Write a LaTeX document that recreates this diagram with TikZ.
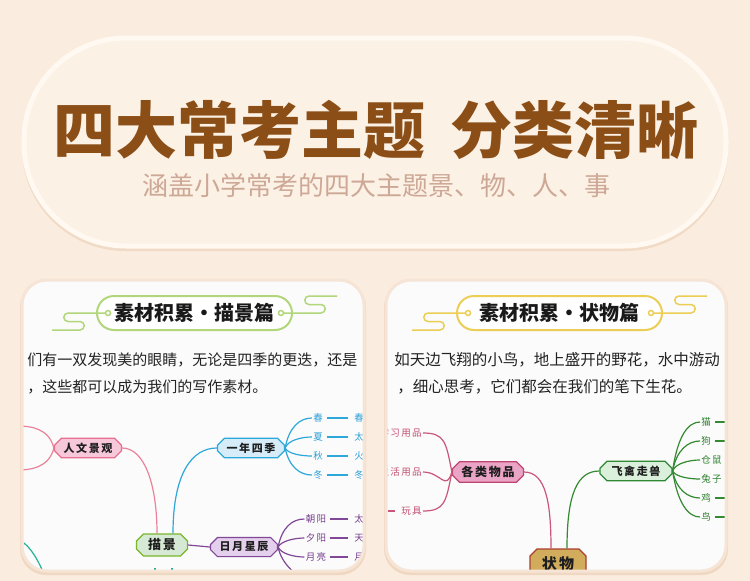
\documentclass[tikz,border=0pt]{standalone}
\usepackage{fontspec}
\newfontfamily\cjk{Noto Sans CJK SC}
\newfontfamily\cjkwide[LetterSpace=14]{Noto Sans CJK SC}
\usetikzlibrary{shapes.misc,calc}

\tikzset{every picture/.style={line width=0.75pt}}
\tikzset{
	card/.style={draw={rgb, 255:red, 246; green, 229; blue, 214 }, line width=3pt, rounded corners=25},
	header/.style={rounded rectangle, line width=2pt, fill=white, minimum height=34pt, inner sep=0pt, font=\cjk\bfseries\fontsize{20}{22}\selectfont, text={rgb, 255:red, 25; green, 25; blue, 25 }},
	topic/.style={chamfered rectangle, chamfered rectangle xsep=3.5pt, chamfered rectangle ysep=3.5pt, line width=1.2pt, inner sep=1pt, minimum height=19pt, minimum width=67pt, font=\cjkwide\bfseries\fontsize{11}{12}\selectfont, text={rgb, 255:red, 30; green, 30; blue, 30 }},
	leaf/.style={inner sep=1pt, font=\cjkwide\fontsize{9.5}{11}\selectfont},
	bodytext/.style={anchor=west, inner sep=0pt, font=\cjk\fontsize{15}{17}\selectfont, text={rgb, 255:red, 35; green, 35; blue, 35 }},
	decogreen/.style={draw={rgb, 255:red, 178; green, 214; blue, 122 }, line width=1.5pt},
	decoyellow/.style={draw={rgb, 255:red, 236; green, 206; blue, 84 }, line width=1.5pt},
	% card 1 branches
	pinkline/.style={draw={rgb, 255:red, 234; green, 130; blue, 155 }, line width=1.2pt},
	pinknode/.style={topic, draw={rgb, 255:red, 232; green, 112; blue, 142 }, fill={rgb, 255:red, 247; green, 200; blue, 218 }},
	blueline/.style={draw={rgb, 255:red, 45; green, 168; blue, 218 }, line width=1.2pt},
	bluenode/.style={topic, draw={rgb, 255:red, 45; green, 168; blue, 218 }, fill={rgb, 255:red, 214; green, 237; blue, 249 }},
	blueleaf/.style={leaf, text={rgb, 255:red, 45; green, 160; blue, 215 }},
	purpleline/.style={draw={rgb, 255:red, 128; green, 72; blue, 150 }, line width=1.2pt},
	purplenode/.style={topic, draw={rgb, 255:red, 128; green, 72; blue, 150 }, fill={rgb, 255:red, 228; green, 208; blue, 236 }},
	purpleleaf/.style={leaf, text={rgb, 255:red, 118; green, 62; blue, 140 }},
	greennode/.style={topic, draw={rgb, 255:red, 122; green, 182; blue, 44 }, fill={rgb, 255:red, 214; green, 233; blue, 212 }, minimum width=51pt, minimum height=22pt, font=\cjkwide\bfseries\fontsize{13}{14}\selectfont},
	tealline/.style={draw={rgb, 255:red, 36; green, 178; blue, 150 }, line width=1.2pt},
	% card 2 branches
	roseline/.style={draw={rgb, 255:red, 200; green, 86; blue, 122 }, line width=1.2pt},
	rosenode/.style={topic, draw={rgb, 255:red, 190; green, 70; blue, 112 }, fill={rgb, 255:red, 234; green, 164; blue, 198 }, minimum width=71pt, minimum height=18pt, font=\cjkwide\bfseries\fontsize{12}{13}\selectfont},
	roseleaf/.style={leaf, anchor=east, text={rgb, 255:red, 196; green, 78; blue, 112 }},
	forestline/.style={draw={rgb, 255:red, 52; green, 138; blue, 48 }, line width=1.2pt},
	forestnode/.style={topic, draw={rgb, 255:red, 46; green, 136; blue, 52 }, fill={rgb, 255:red, 218; green, 240; blue, 218 }, minimum width=72pt, minimum height=18pt},
	forestleaf/.style={leaf, anchor=west, text={rgb, 255:red, 46; green, 128; blue, 46 }},
	goldnode/.style={topic, draw={rgb, 255:red, 170; green, 64; blue, 44 }, fill={rgb, 255:red, 208; green, 172; blue, 92 }, minimum width=56pt, minimum height=30pt, font=\cjkwide\bfseries\fontsize{15}{16}\selectfont}
}

\begin{document}
\begin{tikzpicture}[x=1pt,y=1pt,yscale=-1,xscale=1]
		\useasboundingbox (0,0) rectangle (750,581);

		%Background
		\fill[fill={rgb, 255:red, 250; green, 236; blue, 222 }] (0,0) rectangle (750,581);
		%Shape: Pill
		\fill[fill={rgb, 255:red, 241; green, 219; blue, 199 }, rounded corners=103] (22,43) rectangle (728,251);
		\draw[draw={rgb, 255:red, 255; green, 249; blue, 242 }, line width=5pt, fill={rgb, 255:red, 252; green, 241; blue, 229 }, rounded corners=102] (24,38) rectangle (726,246);

		% Text Node
		\node[font=\cjk\bfseries\fontsize{62}{64}\selectfont, text={rgb, 255:red, 139; green, 78; blue, 22 }] (title) at (376,130) {四大常考主题\hspace{26pt}分类清晰};
		\node[font=\cjk\fontsize{26}{28}\selectfont, text={rgb, 255:red, 206; green, 168; blue, 150 }] (subtitle) at (376,186) {涵盖小学常考的四大主题景、物、人、事};

		%Shape: Card 1
		\fill[fill={rgb, 255:red, 240; green, 215; blue, 193 }, rounded corners=26] (20,281) rectangle (366,575);
		\fill[fill={rgb, 255:red, 251; green, 251; blue, 251 }, rounded corners=25] (22,280) rectangle (364,571);
		\begin{scope}
		\clip[rounded corners=25] (22,280) rectangle (364,571);
		\node[header, draw={rgb, 255:red, 178; green, 214; blue, 122 }, minimum width=195pt] (miaojingpian) at (194.5,313) {素材积累·描景篇};
		\draw[decogreen] (108,313) circle[radius=2.5];
		\draw[decogreen] (281,313) circle[radius=2.5];
		\draw[decogreen] (105.5,313) -- (68,313) arc[start angle=270, end angle=90, radius=4.25] -- (80,321.5) arc[start angle=270, end angle=450, radius=4.25] -- (52,330);
		\draw[decogreen] (283.5,313) -- (321,313) arc[start angle=90, end angle=-90, radius=4.25] -- (309,304.5) arc[start angle=90, end angle=270, radius=4.25] -- (337,296);

		\node[bodytext] (jingtext1) at (27,360) {们有一双发现美的眼睛，无论是四季的更迭，还是};
		\node[bodytext] (jingtext2) at (27,387) {，这些都可以成为我们的写作素材。};

		% Mind map: 描景
		\node[greennode] (miaojing) at (162,545) {描景};
		\node[pinknode] (renwen) at (88,448) {人文景观};
		\node[bluenode] (siji) at (251,448) {一年四季};
		\node[purplenode] (riyue) at (244,547) {日月星辰};

		\draw[pinkline] ($(miaojing.north)+(-5,0)$) .. controls +(0,-50) and +(22,0) .. (renwen.east);
		\draw[blueline] ($(miaojing.north)+(11,0)$) .. controls +(0,-60) and +(-25,0) .. (siji.west);
		\draw[purpleline] (miaojing.east) -- (riyue.west);
		\draw[tealline] ($(miaojing.south)+(-7,11)$) -- +(0,14);
		\draw[tealline] ($(miaojing.south)+(10,11)$) -- +(0,14);

		\coordinate (renwenup) at (18,426);
		\coordinate (renwendown) at (18,470);
		\draw[pinkline] (renwen.west) .. controls +(-5,-20) and +(12,0) .. (renwenup);
		\draw[pinkline] (renwen.west) .. controls +(-5,20) and +(12,0) .. (renwendown);
		\coordinate (tealtop) at (24,543);
		\coordinate (tealbottom) at (46,580);
		\draw[tealline] (tealtop) .. controls +(10,8) and +(-4,-12) .. (tealbottom);

		\node[blueleaf] (chun) at (318,418) {春};
		\node[blueleaf] (xia) at (318,437) {夏};
		\node[blueleaf] (qiu) at (318,456) {秋};
		\node[blueleaf] (dong) at (318,475) {冬};
		\node[blueleaf] (chunmore) at (359,418) {春};
		\node[blueleaf] (xiamore) at (359,437) {太};
		\node[blueleaf] (qiumore) at (359,456) {火};
		\node[blueleaf] (dongmore) at (359,475) {冬};
		\draw[blueline] (siji.east) .. controls +(4,-21) and +(-12,0) .. (chun.west);
		\draw[blueline] (siji.east) .. controls +(3,-8) and +(-10,0) .. (xia.west);
		\draw[blueline] (siji.east) .. controls +(3,6) and +(-10,0) .. (qiu.west);
		\draw[blueline] (siji.east) .. controls +(4,19) and +(-12,0) .. (dong.west);
		\draw[blueline, shorten <=3pt, shorten >=5pt] (chun) -- (chunmore);
		\draw[blueline, shorten <=3pt, shorten >=5pt] (xia) -- (xiamore);
		\draw[blueline, shorten <=3pt, shorten >=5pt] (qiu) -- (qiumore);
		\draw[blueline, shorten <=3pt, shorten >=5pt] (dong) -- (dongmore);

		\node[purpleleaf] (zhaoyang) at (316,519) {朝阳};
		\node[purpleleaf] (xiyang) at (316,538) {夕阳};
		\node[purpleleaf] (yueliang) at (316,557) {月亮};
		\node[purpleleaf] (zhaoyangmore) at (359,519) {太};
		\node[purpleleaf] (xiyangmore) at (359,538) {天};
		\node[purpleleaf] (yueliangmore) at (359,557) {月};
		\coordinate (riyuedown) at (306,580);
		\draw[purpleline] (riyue.east) .. controls +(4,-20) and +(-12,0) .. (zhaoyang.west);
		\draw[purpleline] (riyue.east) .. controls +(3,-6) and +(-10,0) .. (xiyang.west);
		\draw[purpleline] (riyue.east) .. controls +(3,7) and +(-10,0) .. (yueliang.west);
		\draw[purpleline] (riyue.east) .. controls +(3,16) and +(-10,-4) .. (riyuedown);
		\draw[purpleline, shorten <=2pt, shorten >=5pt] (zhaoyang) -- (zhaoyangmore);
		\draw[purpleline, shorten <=2pt, shorten >=5pt] (xiyang) -- (xiyangmore);
		\draw[purpleline, shorten <=2pt, shorten >=5pt] (yueliang) -- (yueliangmore);
		\end{scope}
		\draw[card] (22,280) rectangle (364,571);

		%Shape: Card 2
		\fill[fill={rgb, 255:red, 240; green, 215; blue, 193 }, rounded corners=26] (384,281) rectangle (728,575);
		\fill[fill={rgb, 255:red, 251; green, 251; blue, 251 }, rounded corners=25] (386,280) rectangle (726,571);
		\begin{scope}
		\clip[rounded corners=25] (386,280) rectangle (726,571);
		\node[header, draw={rgb, 255:red, 236; green, 206; blue, 84 }, minimum width=205pt] (zhuangwupian) at (559.5,313) {素材积累·状物篇};
		\draw[decoyellow] (468,313) circle[radius=2.5];
		\draw[decoyellow] (651,313) circle[radius=2.5];
		\draw[decoyellow] (465.5,313) -- (428,313) arc[start angle=270, end angle=90, radius=4.25] -- (440,321.5) arc[start angle=270, end angle=450, radius=4.25] -- (412,330);
		\draw[decoyellow] (653.5,313) -- (691,313) arc[start angle=90, end angle=-90, radius=4.25] -- (679,304.5) arc[start angle=90, end angle=270, radius=4.25] -- (707,296);

		\node[bodytext, font=\cjk\fontsize{15.5}{17}\selectfont] (wutext1) at (394,360) {如天边飞翔的小鸟，地上盛开的野花，水中游动};
		\node[bodytext, font=\cjk\fontsize{15.5}{17}\selectfont] (wutext2) at (397,387) {，细心思考，它们都会在我们的笔下生花。};

		% Mind map: 状物
		\node[goldnode] (zhuangwu) at (558,564) {状物};
		\node[rosenode] (gelei) at (488,472) {各类物品};
		\node[forestnode] (feiqin) at (636,471) {飞禽走兽};

		\draw[roseline] ($(zhuangwu.north)+(-7,0)$) .. controls +(0,-45) and +(22,0) .. (gelei.east);
		\draw[forestline] ($(zhuangwu.north)+(9,0)$) .. controls +(0,-55) and +(-22,0) .. (feiqin.west);

		\node[roseleaf] (xuexi) at (423,433) {学习用品};
		\node[roseleaf] (shenghuo) at (423,472) {生活用品};
		\node[roseleaf] (wanju) at (423,511) {玩具};
		\coordinate (wanjustub) at (388,511);
		\draw[roseline] (gelei.west) .. controls +(-6,-30) and +(22,0) .. (xuexi.east);
		\draw[roseline] (gelei.west) .. controls +(-6,20) and +(18,0) .. (shenghuo.east);
		\draw[roseline] (gelei.west) .. controls +(-6,30) and +(22,0) .. (wanju.east);
		\draw[roseline, shorten >=5pt] (wanjustub) -- (wanju.west);

		\node[forestleaf] (mao) at (700,422) {猫};
		\node[forestleaf] (gou) at (700,441) {狗};
		\node[forestleaf] (cangshu) at (700,460) {仓鼠};
		\node[forestleaf] (tuzi) at (700,479) {兔子};
		\node[forestleaf] (ji) at (700,498) {鸡};
		\node[forestleaf] (niao) at (700,517) {鸟};
		\draw[forestline] (feiqin.east) .. controls +(5,-35) and +(-12,0) .. (mao.west);
		\draw[forestline] (feiqin.east) .. controls +(4,-21) and +(-12,0) .. (gou.west);
		\draw[forestline] (feiqin.east) .. controls +(3,-8) and +(-10,0) .. (cangshu.west);
		\draw[forestline] (feiqin.east) .. controls +(3,6) and +(-10,0) .. (tuzi.west);
		\draw[forestline] (feiqin.east) .. controls +(4,19) and +(-12,0) .. (ji.west);
		\draw[forestline] (feiqin.east) .. controls +(5,32) and +(-12,0) .. (niao.west);
		\draw[forestline] ([xshift=3pt]mao.east) -- +(10,0);
		\draw[forestline] ([xshift=3pt]gou.east) -- +(10,0);
		\draw[forestline] ([xshift=3pt]ji.east) -- +(10,0);
		\draw[forestline] ([xshift=3pt]niao.east) -- +(10,0);
		\end{scope}
		\draw[card] (386,280) rectangle (726,571);

\end{tikzpicture}
\end{document}
